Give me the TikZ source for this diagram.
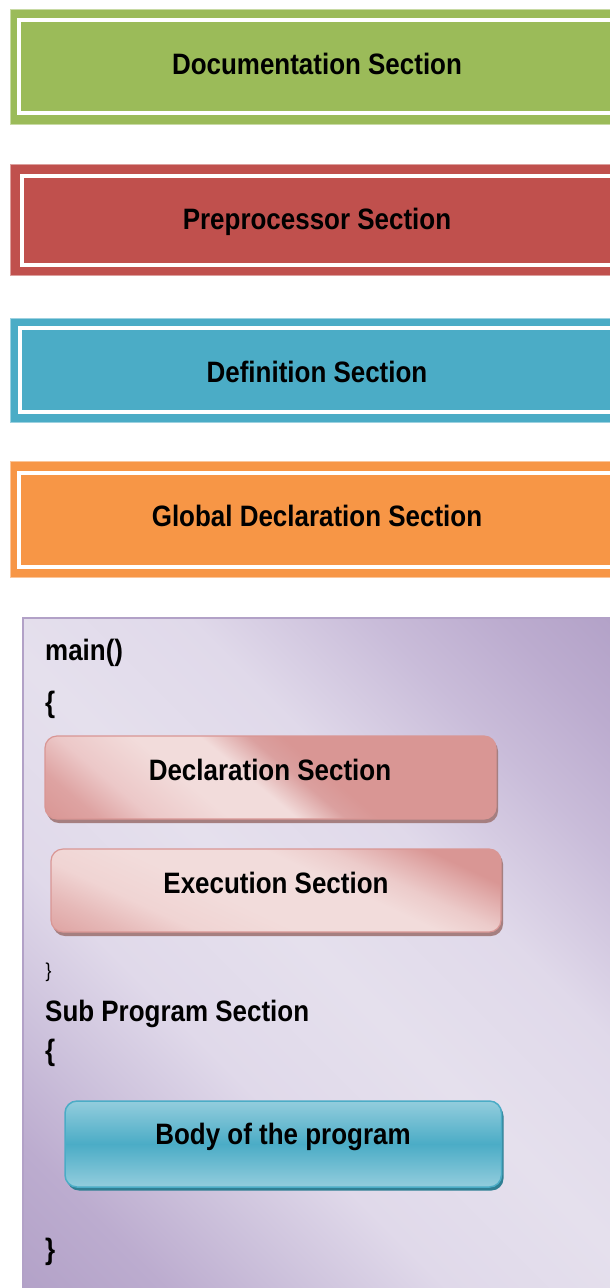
\documentclass[tikz,border=0pt]{standalone}
\usepackage{fontspec}
\newfontfamily\nar{Liberation Sans}[FakeStretch=0.88]
\definecolor{cgreen}{HTML}{9BBB59}
\definecolor{cred}{HTML}{C0504D}
\definecolor{cteal}{HTML}{4BACC6}
\definecolor{corange}{HTML}{F79646}
\definecolor{pdk}{HTML}{B3A2C8}
\definecolor{pdk2}{HTML}{BCACCF}
\definecolor{pmid}{HTML}{CDC2DC}
\definecolor{plt}{HTML}{E0D9EA}
\definecolor{plt2}{HTML}{E5E0ED}
\definecolor{pmid2}{HTML}{C9BCD9}
\definecolor{pkd}{HTML}{D99694}
\definecolor{pkm}{HTML}{DEA3A2}
\definecolor{pkm2}{HTML}{ECC8C8}
\definecolor{pkm3}{HTML}{DBA09F}
\definecolor{pkm4}{HTML}{E6B9B8}
\definecolor{pkm5}{HTML}{ECCBCA}
\definecolor{pkm6}{HTML}{E3B1B0}
\definecolor{pkl}{HTML}{F0D4D3}
\definecolor{pkl2}{HTML}{F2DCDB}
\definecolor{pkshadow}{HTML}{A57F80}
\definecolor{blt}{HTML}{93CDDD}
\definecolor{bdk}{HTML}{4BACC6}
\definecolor{bshadow}{HTML}{2F7F93}
\definecolor{mborder}{HTML}{B2A1C7}
\pgfdeclarehorizontalshading{purpleshade}{1000pt}{color(0pt)=(pdk); color(10pt)=(pdk); color(110pt)=(pdk2); color(205pt)=(pmid); color(310pt)=(plt); color(454pt)=(plt2); color(600pt)=(plt); color(730pt)=(pmid2); color(820pt)=(pdk2); color(898pt)=(pdk); color(908pt)=(pdk)}
\pgfdeclarehorizontalshading{declshade}{500pt}{color(0pt)=(pkd); color(10pt)=(pkd); color(45.4pt)=(pkm); color(80.7pt)=(pkm2); color(130.2pt)=(pkl2); color(172.7pt)=(pkl2); color(204.5pt)=(pkm3); color(225.7pt)=(pkd); color(373.6pt)=(pkd)}
\pgfdeclarehorizontalshading{execshade}{500pt}{color(0pt)=(pkm); color(10pt)=(pkm); color(41.9pt)=(pkm4); color(73.7pt)=(pkl); color(116.2pt)=(pkl2); color(174.7pt)=(pkl2); color(201.2pt)=(pkm5); color(222.5pt)=(pkm6); color(243.7pt)=(pkd); color(285.6pt)=(pkd)}
\tikzset{
  lbl/.style={inner sep=0pt, font=\nar\bfseries\fontsize{29.5}{32}\selectfont, text=black},
  smlbl/.style={inner sep=0pt, font=\nar\fontsize{20}{22}\selectfont, text=black},
  whiteline/.style={draw=white, line width=4pt},
  pinkbox/.style={rounded corners=12pt},
  bg/.style={inner sep=0pt, outer sep=0pt},
}
\begin{document}
\begin{tikzpicture}[x=1pt, y=-1pt]
\useasboundingbox (0,0) rectangle (610,1288);
\clip (0,0) rectangle (610,1288);
\fill[white] (0,0) rectangle (610,1288);
% Documentation
\fill[cgreen] (10,9) rectangle (640,124);
\draw[cgreen!55!white, line width=1pt] (10,9) rectangle (640,124);
\draw[whiteline] (18.7,19.5) rectangle (660,113.3);
\node[lbl, anchor=base] (doc) at (317,74) {Documentation Section};
% Preprocessor
\fill[cred] (10,164) rectangle (640,275);
\draw[cred!55!white, line width=1pt] (10,164) rectangle (640,275);
\draw[whiteline] (22,175.5) rectangle (660,265);
\node[lbl, anchor=base] (pre) at (317,229.5) {Preprocessor Section};
% Definition
\fill[cteal] (10,318) rectangle (640,422);
\draw[cteal!55!white, line width=1pt] (10,318) rectangle (640,422);
\draw[whiteline] (20,328) rectangle (660,412);
\node[lbl, anchor=base] (def) at (317,382.5) {Definition Section};
% Global
\fill[corange] (10,461.3) rectangle (640,577.3);
\draw[corange!55!white, line width=1pt] (10,461.3) rectangle (640,577.3);
\draw[whiteline] (18.7,472.5) rectangle (660,567);
\node[lbl, anchor=base] (glob) at (317,526.5) {Global Declaration Section};
% main box
\begin{scope}
\clip (23,618) rectangle (610,1288);
\node[bg, rotate=45] (mainbg) at (316.5,953) {\pgfuseshading{purpleshade}};
\end{scope}
\draw[mborder, line width=1.2pt] (23,618) rectangle (640,1300);
\node[lbl, anchor=base west] (mainf) at (45,660) {main()};
\node[lbl, anchor=base west] (ob1) at (45,712.6) {\{};
% Declaration
\fill[pinkbox, pkshadow] (47,739) rectangle (498,823);
\begin{scope}
\clip[pinkbox] (45,736) rectangle (496,819);
\node[bg, rotate=50] (declbg) at (270.5,777.5) {\pgfuseshading{declshade}};
\end{scope}
\draw[pinkbox, pkd, line width=1.2pt] (45,736) rectangle (496,819);
\node[lbl, anchor=base] (decl) at (270,780) {Declaration Section};
% Execution
\fill[pinkbox, pkshadow] (53,852) rectangle (503,936);
\begin{scope}
\clip[pinkbox] (51,849) rectangle (501,932);
\node[bg, rotate=65] (execbg) at (276,890.5) {\pgfuseshading{execshade}};
\end{scope}
\draw[pinkbox, pkd, line width=1.2pt] (51,849) rectangle (501,932);
\node[lbl, anchor=base] (exec) at (276,893) {Execution Section};
% closing brace and sub program
\node[smlbl, anchor=base west] (cb1) at (45.5,977) {\}};
\node[lbl, anchor=base west] (sub) at (45,1021.7) {Sub Program Section};
\node[lbl, anchor=base west] (ob2) at (45,1060) {\{};
% Body
\fill[pinkbox, bshadow] (67,1104) rectangle (503.5,1190.5);
\shade[pinkbox, top color=blt, bottom color=blt, middle color=bdk] (65,1101) rectangle (501.5,1187);
\draw[pinkbox, bdk, line width=1.5pt] (65,1101) rectangle (501.5,1187);
\node[lbl, anchor=base] (body) at (283,1144) {Body of the program};
\node[lbl, anchor=base west] (cb2) at (45,1259) {\}};
\end{tikzpicture}
\end{document}
